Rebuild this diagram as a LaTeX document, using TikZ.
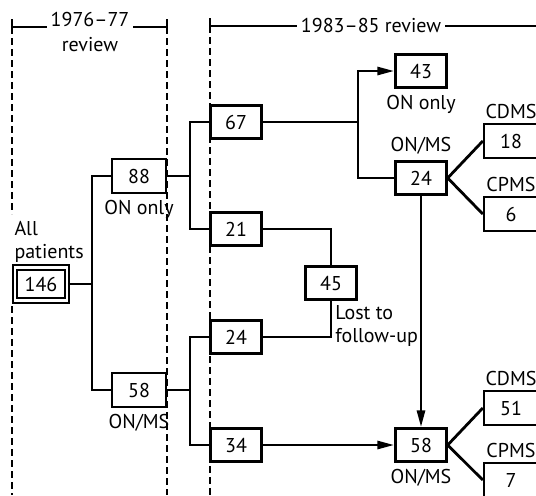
\documentclass[tikz,border=0pt]{standalone}
\usepackage{fontspec}
\setmainfont{PT Sans}
\usetikzlibrary{positioning,arrows.meta}

\begin{document}
\begin{tikzpicture}[x=0.5pt,y=-0.5pt,
  font=\fontsize{10}{11.5}\selectfont,
  box/.style={draw, line width=1.2pt, inner sep=0pt, minimum width=25.5pt, minimum height=16.5pt},
  wbox/.style={box, minimum width=27pt, minimum height=17pt},
  allbox/.style={draw, line width=0.9pt, double, double distance=1.4pt, inner sep=0pt, minimum width=26pt, minimum height=16.5pt},
  lbl/.style={inner sep=0pt},
  conn/.style={line width=1.4pt},
  arr/.style={conn, -{Triangle[length=8.5pt,width=4pt]}},
  sep/.style={line width=0.9pt, dash pattern=on 3.5pt off 2pt},
  hdr/.style={line width=0.8pt}]
  \useasboundingbox (0,0) rectangle (536,495);
  \clip (0,0) rectangle (536,495);

  % review periods
  \draw[sep] (12,27) -- (12,214);
  \draw[sep] (12,306) -- (12,495);
  \draw[sep] (167,27) -- (167,495);
  \draw[sep] (210,26) -- (210,495);
  \draw[hdr] (12,19) -- (12,34) (12,27) -- (167,27) (167,19) -- (167,34);
  \draw[hdr] (210,18) -- (210,33) (210,26) -- (536,26);
  \node[fill=white, inner sep=2pt] (hdrA) at (90,19) {1976--77};
  \node[lbl, below=3pt of hdrA] (hdrAr) {review};
  \node[fill=white, inner sep=2pt] (hdrB) at (371,25) {1983--85 review};

  % first review
  \node[allbox] (all) at (41,284) {146};
  \node[lbl, align=left, above right=2pt and 0pt of all.north west] (alltxt) {All\\patients};
  \node[wbox] (n88) at (139,176) {88};
  \node[lbl, below=3pt of n88] (n88txt) {ON only};
  \node[wbox] (n58a) at (139,390) {58};
  \node[lbl, below=3pt of n58a] (n58atxt) {ON/MS};

  % second review
  \node[box] (n67) at (236,122) {67};
  \node[box] (n21) at (236,229) {21};
  \node[box] (n24a) at (236,337) {24};
  \node[box] (n34) at (236,445) {34};
  \node[box] (n45) at (331,283) {45};
  \node[lbl, align=left, below right=2pt and 2pt of n45.south] (n45txt) {Lost to\\follow-up};
  \node[box] (n43) at (421,71) {43};
  \node[lbl, below=3pt of n43] (n43txt) {ON only};
  \node[box] (n24b) at (421,178) {24};
  \node[lbl, above=3pt of n24b] (n24btxt) {ON/MS};
  \node[box] (n58b) at (421,445) {58};
  \node[lbl, below=3pt of n58b] (n58btxt) {ON/MS};
  \node[wbox] (n18) at (511,141) {18};
  \node[lbl, above=2pt of n18] (n18txt) {CDMS};
  \node[wbox] (n6) at (511,214) {6};
  \node[lbl, above=2pt of n6] (n6txt) {CPMS};
  \node[wbox] (n51) at (511,408) {51};
  \node[lbl, above=2pt of n51] (n51txt) {CDMS};
  \node[wbox] (n7) at (511,480) {7};
  \node[lbl, above=2pt of n7] (n7txt) {CPMS};

  \coordinate (j1) at (92,284);
  \coordinate (j2) at (190,176);
  \coordinate (j3) at (190,390);
  \coordinate (j4) at (358,122);

  \draw[conn] (all.east) -- (j1);
  \draw[conn] (n88.west) -| (j1) |- (n58a.west);
  \draw[conn] (n88.east) -- (j2);
  \draw[conn] (n67.west) -| (j2) |- (n21.west);
  \draw[conn] (n58a.east) -- (j3);
  \draw[conn] (n24a.west) -| (j3) |- (n34.west);
  \draw[conn] (n67.east) -- (j4);
  \draw[arr] (j4) |- (n43.west);
  \draw[conn] (j4) |- (n24b.west);
  \draw[conn] (n21.east) -| (n45.north);
  \draw[conn] (n24a.east) -| (n45.south);
  \draw[arr] (n24b.south) -- (n58b.north);
  \draw[arr] (n34.east) -- (n58b.west);
  \draw[conn] (n24b.east) -- (n18.west);
  \draw[conn] (n24b.east) -- (n6.west);
  \draw[conn] (n58b.east) -- (n51.west);
  \draw[conn] (n58b.east) -- (n7.west);
\end{tikzpicture}
\end{document}
